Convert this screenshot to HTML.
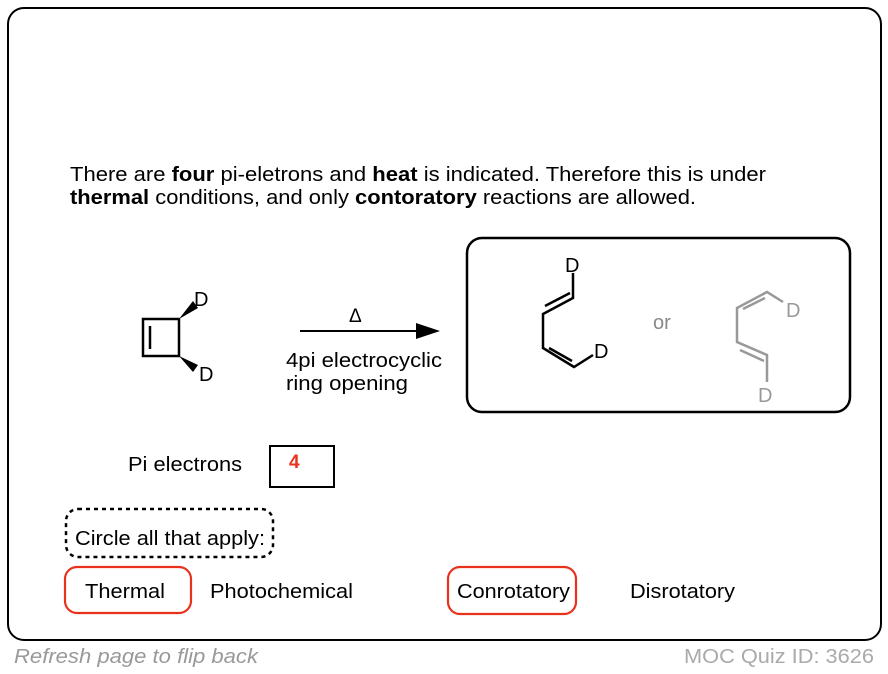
<!DOCTYPE html>
<html><head><style>
html,body{margin:0;padding:0;background:#fff;}
svg{display:block;font-family:"Liberation Sans",Arial,sans-serif;}
</style></head><body>
<svg width="888" height="674" viewBox="0 0 888 674" xmlns="http://www.w3.org/2000/svg">
<rect x="8" y="8" width="873" height="632" rx="16" fill="#fff" stroke="#000" stroke-width="2"/>
<text x="70" y="181" font-size="20.5" textLength="696" lengthAdjust="spacingAndGlyphs">There are <tspan font-weight="bold">four</tspan> pi-eletrons and <tspan font-weight="bold">heat</tspan> is indicated. Therefore this is under</text>
<text x="70" y="204" font-size="20.5" textLength="626" lengthAdjust="spacingAndGlyphs"><tspan font-weight="bold">thermal</tspan> conditions, and only <tspan font-weight="bold">contoratory</tspan> reactions are allowed.</text>
<!-- cyclobutene -->
<g stroke="#000" stroke-width="2.5" fill="none">
<rect x="143" y="319" width="36" height="37"/>
<line x1="150" y1="326" x2="150" y2="349"/>
</g>
<polygon points="179,319 193,301 198,308" fill="#000"/>
<polygon points="179,356 193,372 198,365" fill="#000"/>
<text x="194" y="306" font-size="20">D</text>
<text x="199" y="381" font-size="20">D</text>
<!-- arrow -->
<line x1="300" y1="331" x2="425" y2="331" stroke="#000" stroke-width="2"/>
<polygon points="440,331 416,323 416,339" fill="#000"/>
<text x="349" y="322" font-size="19">Δ</text>
<text x="286" y="367" font-size="20" textLength="156" lengthAdjust="spacingAndGlyphs">4pi electrocyclic</text>
<text x="286" y="390" font-size="20" textLength="122" lengthAdjust="spacingAndGlyphs">ring opening</text>
<!-- product box -->
<rect x="467" y="238" width="383" height="174" rx="15" fill="none" stroke="#000" stroke-width="2.5"/>
<g stroke="#000" stroke-width="2.5" fill="none">
<polyline points="573,273 573,298 543,314 543,348 574,367 593,355"/>
<line x1="545" y1="306" x2="570" y2="293"/>
<line x1="549" y1="348" x2="572" y2="361"/>
</g>
<text x="565" y="272" font-size="20">D</text>
<text x="594" y="358" font-size="20">D</text>
<text x="653" y="329" font-size="20" fill="#888">or</text>
<g stroke="#999" stroke-width="2.5" fill="none">
<polyline points="783,302 767,292 737,308 737,342 767,355 767,382"/>
<line x1="743" y1="309" x2="765" y2="298"/>
<line x1="740" y1="350" x2="764" y2="361"/>
</g>
<text x="786" y="317" font-size="20" fill="#999">D</text>
<text x="758" y="402" font-size="20" fill="#999">D</text>
<!-- pi electrons -->
<text x="128" y="471" font-size="20" textLength="114" lengthAdjust="spacingAndGlyphs">Pi electrons</text>
<rect x="270" y="446" width="64" height="41" fill="none" stroke="#000" stroke-width="2"/>
<text x="289" y="468" font-size="19" font-weight="bold" fill="#e8321e">4</text>
<rect x="66" y="509" width="207" height="48" rx="12" fill="none" stroke="#000" stroke-width="2.5" stroke-dasharray="4,4"/>
<text x="75" y="545" font-size="20" textLength="190" lengthAdjust="spacingAndGlyphs">Circle all that apply:</text>
<rect x="65" y="567" width="126" height="46" rx="12" fill="none" stroke="#e8321e" stroke-width="2.2"/>
<text x="85" y="598" font-size="20" textLength="80" lengthAdjust="spacingAndGlyphs">Thermal</text>
<text x="210" y="598" font-size="20" textLength="143" lengthAdjust="spacingAndGlyphs">Photochemical</text>
<rect x="448" y="567" width="128" height="47" rx="12" fill="none" stroke="#e8321e" stroke-width="2.2"/>
<text x="457" y="598" font-size="20" textLength="113" lengthAdjust="spacingAndGlyphs">Conrotatory</text>
<text x="630" y="598" font-size="20" textLength="105" lengthAdjust="spacingAndGlyphs">Disrotatory</text>
<text x="14" y="663" font-size="20" font-style="italic" fill="#999" textLength="244" lengthAdjust="spacingAndGlyphs">Refresh page to flip back</text>
<text x="684" y="663" font-size="20" fill="#aaa" textLength="190" lengthAdjust="spacingAndGlyphs">MOC Quiz ID: 3626</text>
</svg>
</body></html>
